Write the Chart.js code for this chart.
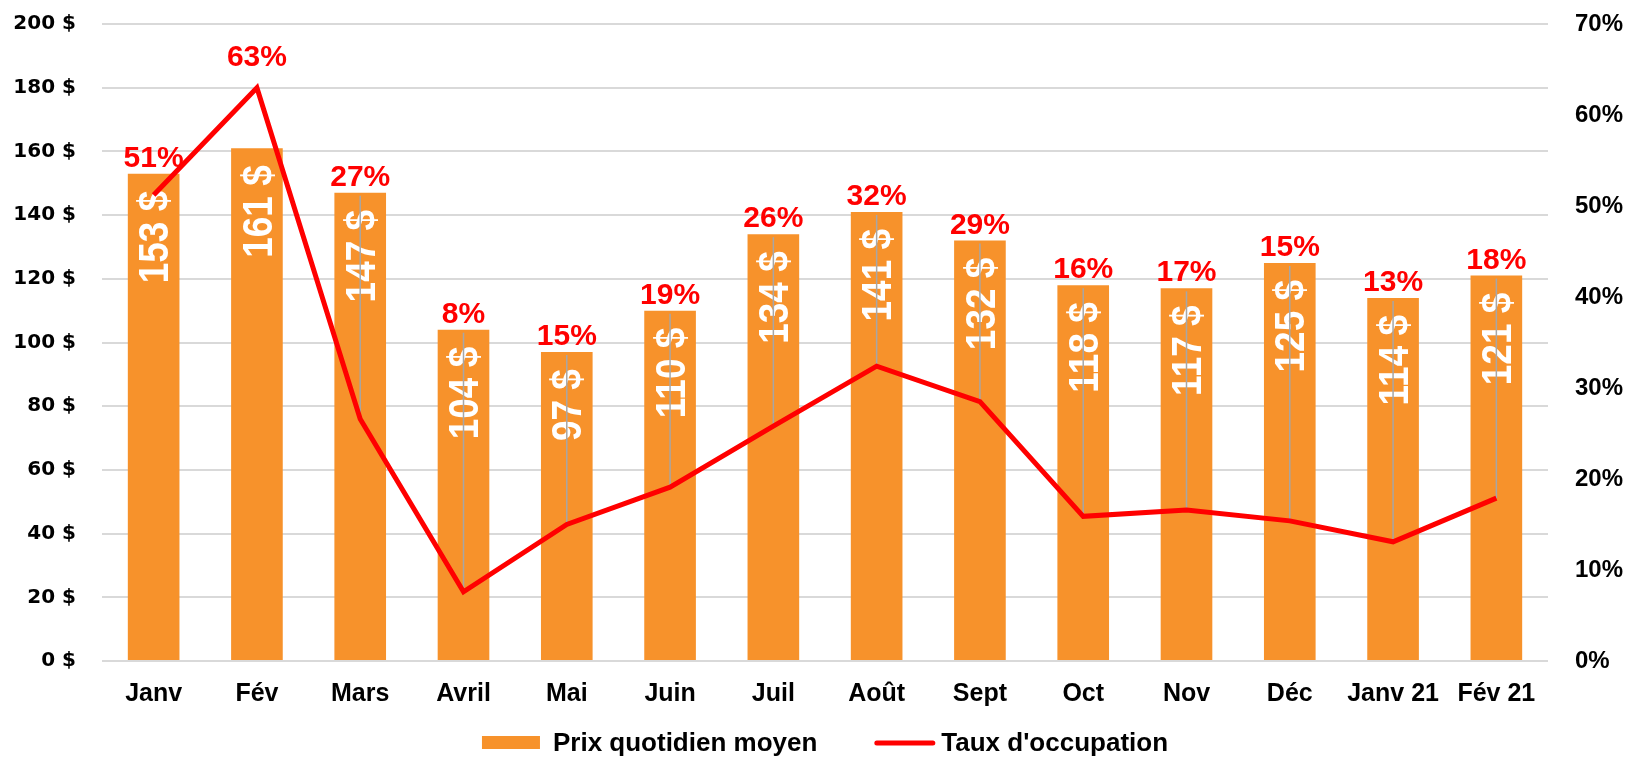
<!DOCTYPE html>
<html lang="fr">
<head>
<meta charset="utf-8">
<title>Prix quotidien moyen et taux d'occupation</title>
<script src="https://cdn.jsdelivr.net/npm/chart.js@4/dist/chart.umd.min.js"></script>
<style>
    html, body { margin: 0; padding: 0; background: #fff; }
    #wrap { width: 1628px; height: 757px; }
</style>
</head>
<body>
<div id="wrap"><canvas id="chart" width="1628" height="757"></canvas></div>
<script>
// Données
const mois = ['Janv', 'Fév', 'Mars', 'Avril', 'Mai', 'Juin', 'Juil', 'Août', 'Sept', 'Oct', 'Nov', 'Déc', 'Janv 21', 'Fév 21'];
const prixMoyen = [153, 161, 147, 104, 97, 110, 134, 141, 132, 118, 117, 125, 114, 121];
const tauxOccupation = [51.2, 63.0, 26.6, 7.6, 15.0, 19.1, 25.8, 32.4, 28.5, 15.9, 16.6, 15.4, 13.1, 17.9];
const ticksPrix = [0, 20, 40, 60, 80, 100, 120, 140, 160, 180, 200];
const ticksTaux = [0, 10, 20, 30, 40, 50, 60, 70];
const legende = ['Prix quotidien moyen', "Taux d'occupation"];

const ORANGE = '#F7922B';
const ROUGE = '#FF0000';
const POLICE = '"Liberation Sans", Arial, sans-serif';

// Étiquettes : montants dans les barres, pourcentages au-dessus, lignes de rappel
const etiquettes = {
    id: 'etiquettes',
    afterDatasetDraw(chart, args) {
        if (args.meta.type !== 'bar') return;
        const ctx = chart.ctx;
        const barres = args.meta.data;
        const points = chart.getDatasetMeta(1).data;
        ctx.save();
        // montants en blanc, texte vertical
        ctx.fillStyle = '#fff';
        ctx.font = 'bold 37px ' + POLICE;
        ctx.textAlign = 'right';
        ctx.textBaseline = 'alphabetic';
        barres.forEach((b, i) => {
            ctx.save();
            ctx.translate(b.x, b.y + 17);
            ctx.rotate(-Math.PI / 2);
            ctx.scale(1, 1.13);
            ctx.fillText(prixMoyen[i] + ' $', 0, 13);
            ctx.restore();
        });
        // lignes de rappel grises
        ctx.strokeStyle = '#A6A6A6';
        ctx.lineWidth = 1.5;
        barres.forEach((b, i) => {
            const p = points[i];
            if (p.y - b.y > 30) {
                ctx.beginPath();
                ctx.moveTo(b.x, b.y + 3);
                ctx.lineTo(p.x, p.y);
                ctx.stroke();
            }
        });
        ctx.restore();
    },
    afterDatasetsDraw(chart) {
        const ctx = chart.ctx;
        const barres = chart.getDatasetMeta(0).data;
        const points = chart.getDatasetMeta(1).data;
        ctx.save();
        ctx.fillStyle = ROUGE;
        ctx.font = 'bold 30px ' + POLICE;
        ctx.textAlign = 'center';
        ctx.textBaseline = 'alphabetic';
        points.forEach((p, i) => {
            const b = barres[i];
            const y = p.y < b.y ? p.y - 22 : b.y - 7;
            ctx.fillText(Math.round(tauxOccupation[i]) + '%', p.x, y);
        });
        ctx.restore();
    }
};

// Légende dessinée sous le graphique (écart entre les deux entrées comme l'original)
const legendeBas = {
    id: 'legendeBas',
    afterDraw(chart) {
        const ctx = chart.ctx;
        const area = chart.chartArea;
        ctx.save();
        ctx.font = 'bold 26px ' + POLICE;
        ctx.textBaseline = 'middle';
        ctx.textAlign = 'left';
        const w1 = ctx.measureText(legende[0]).width;
        const w2 = ctx.measureText(legende[1]).width;
        const total = 58 + 13 + w1 + 57 + 61 + 6 + w2;
        let x = (area.left + area.right) / 2 - total / 2;
        const y = 743;
        ctx.fillStyle = ORANGE;
        ctx.fillRect(x, y - 7, 58, 13);
        x += 58 + 13;
        ctx.fillStyle = '#000';
        ctx.fillText(legende[0], x, y + 1);
        x += w1 + 57;
        ctx.strokeStyle = ROUGE;
        ctx.lineWidth = 5;
        ctx.lineCap = 'round';
        ctx.beginPath();
        ctx.moveTo(x + 2.5, y);
        ctx.lineTo(x + 58.5, y);
        ctx.stroke();
        x += 61 + 6;
        ctx.fillText(legende[1], x, y + 1);
        ctx.restore();
    }
};

const ctx = document.getElementById('chart').getContext('2d');
new Chart(ctx, {
    type: 'bar',
    data: {
        labels: mois,
        datasets: [
            {
                type: 'bar',
                label: legende[0],
                data: prixMoyen,
                backgroundColor: ORANGE,
                borderWidth: 0,
                categoryPercentage: 1,
                barPercentage: 0.5,
                yAxisID: 'y',
                order: 1
            },
            {
                type: 'line',
                label: legende[1],
                data: tauxOccupation,
                borderColor: ROUGE,
                backgroundColor: ROUGE,
                borderWidth: 5,
                pointRadius: 0,
                tension: 0,
                yAxisID: 'y1',
                order: 0
            }
        ]
    },
    options: {
        responsive: false,
        animation: false,
        layout: { padding: { top: 24, left: 0, right: 0, bottom: 44 } },
        plugins: {
            tooltip: { enabled: false },
            legend: { display: false }
        },
        scales: {
            x: {
                grid: { display: false },
                border: { display: false },
                ticks: {
                    color: '#000',
                    padding: 10,
                    maxRotation: 0,
                    font: { family: POLICE, size: 25, weight: 'bold' }
                },
                afterFit: scale => { scale.height = 52; }
            },
            y: {
                position: 'left',
                min: 0,
                max: 200,
                afterBuildTicks: scale => { scale.ticks = ticksPrix.map(v => ({ value: v })); },
                // marque de graduation invisible pour décaler les libellés
                grid: { color: '#D9D9D9', lineWidth: 2, drawTicks: true, tickLength: 26, tickColor: 'rgba(0,0,0,0)' },
                border: { display: false },
                ticks: {
                    color: '#000',
                    padding: 0,
                    font: { family: '"DejaVu Sans", sans-serif', size: 20, weight: 'bold' },
                    callback: v => v + ' $'
                },
                afterFit: scale => { scale.width = 102; }
            },
            y1: {
                position: 'right',
                min: 0,
                max: 70,
                afterBuildTicks: scale => { scale.ticks = ticksTaux.map(v => ({ value: v })); },
                grid: { drawOnChartArea: false, drawTicks: true, tickLength: 27, tickColor: 'rgba(0,0,0,0)' },
                border: { display: false },
                ticks: {
                    color: '#000',
                    padding: 0,
                    font: { family: POLICE, size: 24, weight: 'bold' },
                    callback: v => v + '%'
                },
                afterFit: scale => { scale.width = 80; }
            }
        }
    },
    plugins: [etiquettes, legendeBas]
});
</script>
</body>
</html>
